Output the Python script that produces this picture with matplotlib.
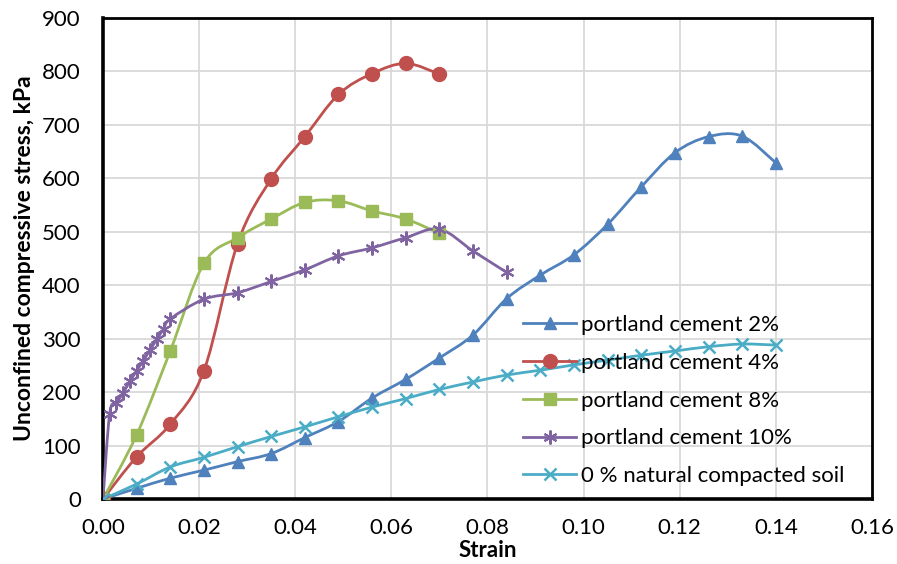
import matplotlib
matplotlib.use("Agg")
import matplotlib.pyplot as plt
import numpy as np
from matplotlib.path import Path
from matplotlib.patches import PathPatch
from matplotlib.lines import Line2D

plt.rcParams["font.family"] = ["Lato", "DejaVu Sans"]

# strain values
strain_7 = [0.0, 0.007, 0.014, 0.021, 0.028, 0.035, 0.042, 0.049, 0.056, 0.063, 0.07,
            0.077, 0.084, 0.091, 0.098, 0.105, 0.112, 0.119, 0.126, 0.133, 0.14]
strain_10 = [0.0, 0.0014, 0.0028, 0.0042, 0.0056, 0.007, 0.0084, 0.0098, 0.0112, 0.0126,
             0.014, 0.021, 0.028, 0.035, 0.042, 0.049, 0.056, 0.063, 0.07, 0.077, 0.084]

# stress values, kPa
pc2 = [0, 20, 39, 54, 70, 85, 115, 145, 189, 224, 264, 307, 375, 419, 457, 514, 584,
       648, 678, 679, 629]
pc4 = [0, 79, 140, 240, 478, 599, 678, 757, 796, 815, 795]
pc8 = [0, 120, 277, 441, 489, 524, 555, 558, 539, 524, 497]
pc10 = [0, 160, 179, 199, 220, 240, 259, 279, 299, 318, 337, 374, 386, 407, 429, 455,
        470, 489, 505, 464, 424]
soil = [0, 28, 60, 78, 98, 117, 135, 154, 172, 188, 205, 219, 232, 241, 251, 260, 269,
        277, 285, 290, 288]

labels = ["portland cement 2%", "portland cement 4%", "portland cement 8%",
          "portland cement 10%", "0 % natural compacted soil"]
colors = ["#4F81BD", "#C0504D", "#9BBB59", "#8064A2", "#4BACC6"]


def smooth_path(x, y):
    # Catmull-Rom style bezier through the data points (like Excel smoothed lines)
    p = np.column_stack([x, y]).astype(float)
    n = len(p)
    verts = [p[0]]
    codes = [Path.MOVETO]
    for i in range(n - 1):
        p0 = p[i - 1] if i > 0 else p[i]
        p1 = p[i]
        p2 = p[i + 1]
        p3 = p[i + 2] if i + 2 < n else p[i + 1]
        c1 = p1 + (p2 - p0) / 6
        c2 = p2 - (p3 - p1) / 6
        verts += [c1, c2, p2]
        codes += [Path.CURVE4] * 3
    return Path(verts, codes)


fig = plt.figure(figsize=(8.97, 5.64), dpi=100)
ax = fig.add_axes([0.1148, 0.1152, 0.8573, 0.8529])

series = [
    (strain_7, pc2, "^", 9, 1.0),
    (strain_7[:len(pc4)], pc4, "o", 10, 1.0),
    (strain_7[:len(pc8)], pc8, "s", 9, 1.0),
    (strain_10, pc10, (6, 2, 0), 10, 1.5),
    (strain_7, soil, "x", 8, 1.8),
]

handles = []
for (x, y, marker, ms, mew), color, label in zip(series, colors, labels):
    ax.add_patch(PathPatch(smooth_path(x, y), fill=False, edgecolor=color, lw=2.0,
                           zorder=3))
    ax.plot(x, y, linestyle="none", marker=marker, markersize=ms, color=color,
            markeredgecolor=color, markeredgewidth=mew, zorder=4)
    handles.append(Line2D([], [], color=color, lw=2.0, marker=marker, markersize=ms,
                          markeredgewidth=mew, label=label))

ax.set_xlim(0, 0.16)
ax.set_ylim(0, 900)
ax.set_xticks(np.arange(0, 0.161, 0.02))
ax.set_yticks(np.arange(0, 901, 100))
ax.xaxis.set_major_formatter(plt.FormatStrFormatter("%.2f"))
ax.grid(True, color="#D9D9D9", lw=1.3)
ax.set_axisbelow(True)
ax.tick_params(length=0, labelsize=16)
ax.tick_params(axis="y", pad=16)
ax.tick_params(axis="x", pad=14)
for side in ["left", "bottom"]:
    ax.spines[side].set_linewidth(2.6)
for side in ["top", "right"]:
    ax.spines[side].set_linewidth(2.0)

ax.set_xlabel("Strain", fontsize=16, fontweight="bold", labelpad=1)
ax.set_ylabel("Unconfined compressive stress, kPa", fontsize=16.5, fontweight="bold",
              labelpad=5)

ax.legend(handles=handles, loc="lower left", bbox_to_anchor=(0.52, -0.015),
          frameon=False, fontsize=16, handlelength=2.4, handletextpad=0.2,
          labelspacing=0.8)

fig.savefig("out.png", dpi=100)
